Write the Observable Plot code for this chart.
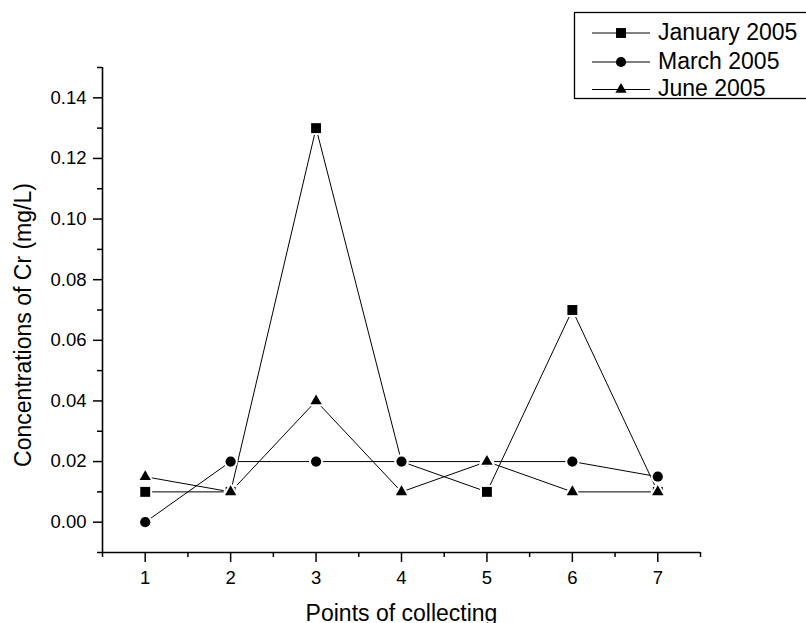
<!DOCTYPE html>
<html><head><meta charset="utf-8">
<script src="https://cdn.jsdelivr.net/npm/d3@7"></script>
<script src="https://cdn.jsdelivr.net/npm/@observablehq/plot@0.6"></script>
<style>
html,body{margin:0;padding:0;background:#fff;overflow:hidden;width:806px;height:623px;}
#wrap{position:relative;width:806px;height:623px;overflow:hidden;}
#wrap svg{display:block;}
</style></head><body><div id="wrap"></div>
<script>
const points = [1, 2, 3, 4, 5, 6, 7];
const january = [0.01, 0.01, 0.13, 0.02, 0.01, 0.07, 0.01];
const march = [0.00, 0.02, 0.02, 0.02, 0.02, 0.02, 0.015];
const june = [0.015, 0.01, 0.04, 0.01, 0.02, 0.01, 0.01];
const seriesNames = ["January 2005", "March 2005", "June 2005"];
const seriesSymbols = ["square", "circle", "triangle"];
const yMajor = [0, 0.02, 0.04, 0.06, 0.08, 0.10, 0.12, 0.14];
const yMinor = [-0.01, 0.01, 0.03, 0.05, 0.07, 0.09, 0.11, 0.13, 0.15];
const xMajor = [1, 2, 3, 4, 5, 6, 7];
const xMinor = [0.5, 1.5, 2.5, 3.5, 4.5, 5.5, 6.5, 7.5];
const xLabel = "Points of collecting";
const yLabel = "Concentrations of Cr (mg/L)";

const table = [];
[january, march, june].forEach((vals, i) =>
  vals.forEach((v, j) => table.push({series: seriesNames[i], point: points[j], value: v})));

const radii = {square: 5.6, circle: 5.1, triangle: 4.2};
const font = "'Liberation Sans', Arial, Helvetica, sans-serif";

const dots = seriesNames.map((name, i) =>
  Plot.dot(table.filter(d => d.series === name), {
    x: "point", y: "value", symbol: seriesSymbols[i], r: radii[seriesSymbols[i]],
    fill: "black", stroke: "white", strokeWidth: 4, paintOrder: "stroke"
  }));

const chart = Plot.plot({
  width: 806, height: 623,
  marginLeft: 102, marginRight: 106, marginTop: 67, marginBottom: 71,
  style: {fontFamily: font, fontSize: "18.5px", background: "white", color: "black"},
  x: {domain: [0.5, 7.5], label: null},
  y: {domain: [-0.01, 0.15], label: null},
  marks: [
    Plot.line(table, {x: "point", y: "value", z: "series", stroke: "black", strokeWidth: 1}),
    ...dots,
    Plot.ruleX([0.5], {stroke: "black", strokeWidth: 1.6}),
    Plot.ruleY([-0.01], {stroke: "black", strokeWidth: 1.6}),
    Plot.axisY({ticks: yMajor, tickSize: 9, tickPadding: 7, tickFormat: d3.format(".2f"), fontSize: 18.5, strokeWidth: 1.5, label: null}),
    Plot.axisY({ticks: yMinor, tickSize: 5, tickFormat: () => "", strokeWidth: 1.5, label: null}),
    Plot.axisX({ticks: xMajor, tickSize: 10, tickPadding: 8, tickFormat: d3.format("d"), fontSize: 18.5, strokeWidth: 1.5, label: null}),
    Plot.axisX({ticks: xMinor, tickSize: 5, tickFormat: () => "", strokeWidth: 1.5, label: null}),
    Plot.text([yLabel], {text: d => d, frameAnchor: "left", rotate: -90, dx: -72, dy: 15, textAnchor: "middle", lineAnchor: "bottom", fontSize: 23, fill: "black"}),
    Plot.text([xLabel], {text: d => d, frameAnchor: "bottom", dy: 68, lineAnchor: "bottom", fontSize: 23, fill: "black"})
  ]
});

const wrap = document.getElementById("wrap");
wrap.appendChild(chart);

// Legend overlay
const lg = d3.select(wrap).append("svg")
  .attr("width", 816).attr("height", 110)
  .style("position", "absolute").style("left", "0px").style("top", "0px")
  .style("font-family", font);
lg.append("rect").attr("x", 574.5).attr("y", 12.5).attr("width", 240).attr("height", 86)
  .attr("fill", "white").attr("stroke", "black").attr("stroke-width", 1.3);
const markerY = [33, 62, 89.5];
const textY = [31.5, 60.5, 87.5];
seriesNames.forEach((name, i) => {
  lg.append("line").attr("x1", 592).attr("x2", 650).attr("y1", markerY[i]).attr("y2", markerY[i])
    .attr("stroke", "black").attr("stroke-width", 1);
  const sym = {square: d3.symbolSquare, circle: d3.symbolCircle, triangle: d3.symbolTriangle}[seriesSymbols[i]];
  const r = radii[seriesSymbols[i]];
  lg.append("path").attr("d", d3.symbol(sym, Math.PI * r * r)())
    .attr("transform", `translate(621,${markerY[i]})`).attr("fill", "black");
  lg.append("text").attr("x", 658).attr("y", textY[i]).attr("dy", "0.35em")
    .attr("font-size", 23).attr("fill", "black").text(name);
});
</script></body></html>
